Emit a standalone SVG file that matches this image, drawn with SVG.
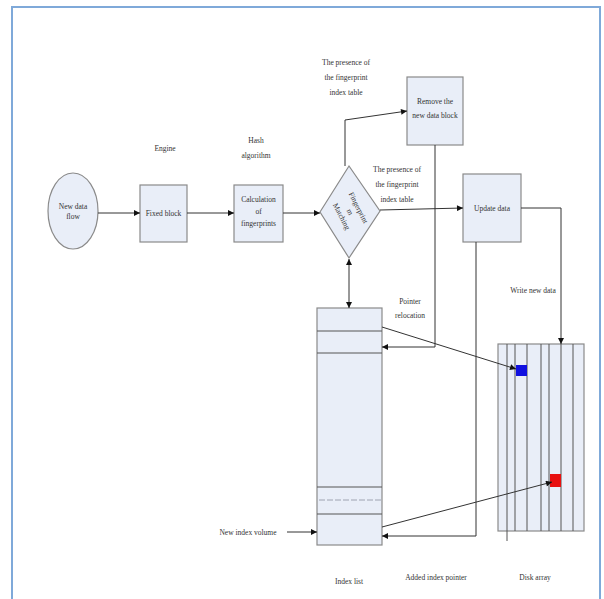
<svg xmlns="http://www.w3.org/2000/svg" width="604" height="599" viewBox="0 0 604 599">
<defs>
<marker id="ah" viewBox="0 0 10 10" refX="10" refY="5" markerWidth="8" markerHeight="6" markerUnits="userSpaceOnUse" orient="auto-start-reverse">
<path d="M0,0 L10,5 L0,10 z" fill="#111"/>
</marker>
<style>
.box{fill:#e9eef8;stroke:#8a8a8a;stroke-width:1.2}
.ln{fill:none;stroke:#555;stroke-width:1}
.con{fill:none;stroke:#333;stroke-width:1}
text{font-family:"Liberation Serif","Times New Roman",serif;font-size:7.5px;fill:#333;text-anchor:middle}
</style>
</defs>
<rect x="0" y="0" width="604" height="599" fill="#fff"/>
<rect x="12" y="7" width="588" height="600" fill="#fff" stroke="#7fa9d9" stroke-width="2"/>

<g id="new-data-flow">
<ellipse class="box" cx="73" cy="211" rx="25" ry="38"/>
<text x="73" y="209">New data</text>
<text x="73" y="219">flow</text>
</g>
<g id="fixed-block">
<rect class="box" x="140" y="185" width="47" height="57"/>
<text x="163.5" y="216">Fixed block</text>
</g>
<g id="calc">
<rect class="box" x="234" y="185" width="49" height="57"/>
<text x="258.5" y="202">Calculation</text>
<text x="258.5" y="214">of</text>
<text x="258.5" y="226">fingerprints</text>
</g>
<g id="matching">
<polygon class="box" points="320,212 349,166 380,211 349,258"/>
<g transform="translate(350,212) rotate(63)">
<text x="0" y="-7" font-size="7">Fingerprint</text>
<text x="0" y="2.5" font-size="7">m</text>
<text x="0" y="12" font-size="7">Matching</text>
</g>
</g>
<g id="remove-block">
<rect class="box" x="407" y="77" width="56" height="68"/>
<text x="435" y="104">Remove the</text>
<text x="435" y="118">new data block</text>
</g>
<g id="update-data">
<rect class="box" x="463" y="174" width="58" height="68"/>
<text x="492" y="211">Update data</text>
</g>
<g id="index-list">
<rect class="box" x="317" y="308" width="65" height="237"/>
<line class="ln" x1="317" y1="331" x2="382" y2="331"/>
<line class="ln" x1="317" y1="353" x2="382" y2="353"/>
<line class="ln" x1="317" y1="487" x2="382" y2="487"/>
<line x1="319" y1="500" x2="381" y2="500" stroke="#8a8fa0" stroke-width="0.8" stroke-dasharray="6,2"/>
<line class="ln" x1="317" y1="514" x2="382" y2="514"/>
</g>
<g id="disk-array">
<rect class="box" x="498" y="344" width="86" height="187"/>
<line class="ln" x1="507" y1="344" x2="507" y2="541"/>
<line class="ln" x1="515" y1="344" x2="515" y2="531"/>
<line class="ln" x1="527" y1="344" x2="527" y2="531"/>
<line class="ln" x1="541" y1="344" x2="541" y2="531"/>
<line class="ln" x1="549" y1="344" x2="549" y2="531"/>
<line class="ln" x1="561" y1="344" x2="561" y2="531"/>
<line class="ln" x1="573" y1="344" x2="573" y2="531"/>
<rect x="516" y="365" width="11" height="11" fill="#1010e0"/>
<rect x="550" y="474" width="11" height="13" fill="#e81010"/>
</g>

<g id="connectors">
<path class="con" d="M98,213 L140,213" marker-end="url(#ah)"/>
<path class="con" d="M187,213 L234,213" marker-end="url(#ah)"/>
<path class="con" d="M283,213 L320,213" marker-end="url(#ah)"/>
<path class="con" d="M345,166 L345,120 L407,111" marker-end="url(#ah)"/>
<path class="con" d="M380,210 L463,208" marker-end="url(#ah)"/>
<path class="con" d="M521,208 L561,208 L561,344" marker-end="url(#ah)"/>
<path class="con" d="M435,145 L435,347 L382,347" marker-end="url(#ah)"/>
<path class="con" d="M476,242 L476,536 L382,536" marker-end="url(#ah)"/>
<path class="con" d="M349,259 L349,308" marker-start="url(#ah)" marker-end="url(#ah)"/>
<path class="con" d="M382,327 L516,369" marker-end="url(#ah)"/>
<path class="con" d="M382,527 L552,482" marker-end="url(#ah)"/>
<path class="con" d="M287,532 L317,532" marker-end="url(#ah)"/>
</g>

<g id="labels">
<text x="165" y="151">Engine</text>
<text x="256" y="143">Hash</text>
<text x="256" y="158">algorithm</text>
<text x="346" y="65">The presence of</text>
<text x="346" y="80">the fingerprint</text>
<text x="346" y="95">index table</text>
<text x="397" y="172">The presence of</text>
<text x="397" y="187">the fingerprint</text>
<text x="397" y="202">index table</text>
<text x="410" y="304">Pointer</text>
<text x="410" y="318">relocation</text>
<text x="533" y="293">Write new data</text>
<text x="248" y="535">New index volume</text>
<text x="349" y="584">Index list</text>
<text x="436" y="580">Added index pointer</text>
<text x="535" y="580">Disk array</text>
</g>
</svg>
